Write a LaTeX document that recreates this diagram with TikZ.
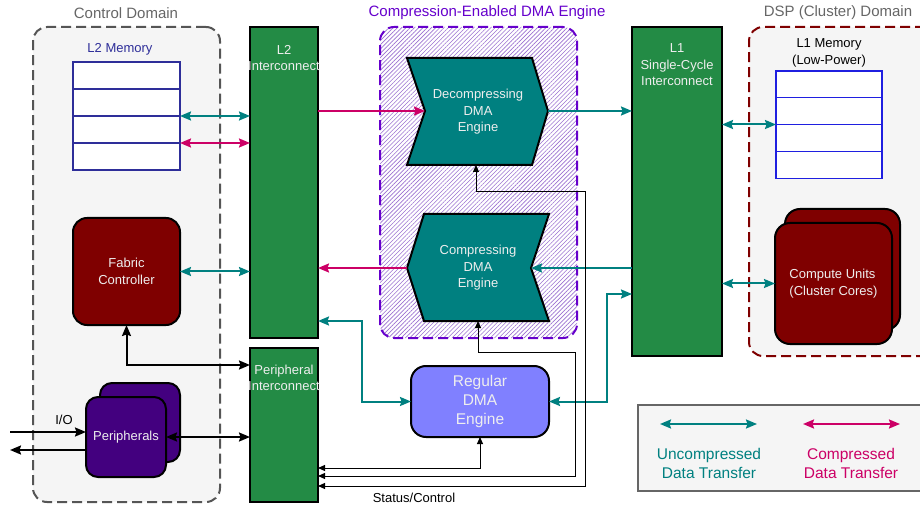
\documentclass[tikz,border=0pt]{standalone}
\usepackage{fontspec}
\setmainfont{Liberation Sans}
\usetikzlibrary{arrows.meta,patterns.meta}
\definecolor{icgreen}{HTML}{238B45}
\definecolor{uncteal}{HTML}{008080}
\definecolor{cmpmag}{HTML}{CC0066}
\definecolor{fcred}{HTML}{7F0000}
\definecolor{perpurple}{HTML}{43007F}
\definecolor{dmablue}{HTML}{8080FF}
\definecolor{bggray}{HTML}{F5F5F5}
\definecolor{domgray}{HTML}{555555}
\definecolor{titgray}{HTML}{666666}
\definecolor{memnavy}{HTML}{2E2E99}
\definecolor{l1blue}{HTML}{1F1FE0}
\definecolor{cdmaviolet}{HTML}{6600CC}
\definecolor{hatch}{HTML}{9A70D0}
\definecolor{lightfg}{HTML}{EEEEEE}
\definecolor{leggray}{HTML}{666666}
\begin{document}
\begin{tikzpicture}[x=1pt,y=-1pt,font=\fontsize{13}{16.5}\selectfont,
		>={Stealth[length=11pt,width=9pt,inset=1.5pt]},
		box/.style={anchor=north west,outer sep=0pt,inner sep=0pt,line width=2pt},
		domainbox/.style={box,draw=#1,fill=bggray,dash pattern=on 10pt off 5pt,rounded corners=14pt},
		icbox/.style={box,draw=black,fill=icgreen},
		rbox/.style={box,draw=black,fill=#1,rounded corners=14pt},
		memrow/.style={box,draw=#1,fill=white,line width=1.2pt,minimum width=107pt,minimum height=27pt},
		lbl/.style={text=lightfg,align=center},
		title/.style={font=\fontsize{15}{18}\selectfont,text=#1},
		unc/.style={draw=uncteal,line width=2pt},
		cmp/.style={draw=cmpmag,line width=2pt},
		blk/.style={draw=black,line width=2pt},
		stat/.style={draw=black,line width=1pt,{Triangle[length=7pt,width=6pt]}-{Triangle[length=7pt,width=6pt]}}
	]
	\useasboundingbox (0,0) rectangle (920,510);
	% domains
	\node[domainbox=domgray,minimum width=187pt,minimum height=475pt](ctrl) at (33,27){};
	\node[title=titgray] at (126,13){Control Domain};
	\node[box,draw=cdmaviolet,fill=white,pattern={Lines[angle=45,distance=3pt,line width=0.6pt]},pattern color=hatch,dash pattern=on 10pt off 5pt,rounded corners=14pt,minimum width=197pt,minimum height=311pt](cdma) at (380,27){};
	\node[title=cdmaviolet] at (487,13){Compression-Enabled DMA Engine};
	\node[domainbox=fcred,minimum width=190pt,minimum height=329pt](dsp) at (749,27){};
	\node[title=titgray] at (838,13){DSP (Cluster) Domain};

	% control domain
	\node[text=memnavy] at (120,49){L2 Memory};
	\foreach \i in {0,...,3}
		\node[memrow=memnavy](l2m\i) at (73,62+27*\i){};
	\node[rbox=fcred,lbl,minimum width=107pt,minimum height=107pt](fc) at (73,218){Fabric\\Controller};
	\node[rbox=perpurple,rounded corners=12pt,minimum width=80pt,minimum height=79pt](perb) at (100,383){};
	\node[rbox=perpurple,lbl,rounded corners=12pt,minimum width=80pt,minimum height=80pt](per) at (86,397){Peripherals};

	% interconnects
	\node[icbox,minimum width=68pt,minimum height=311pt](l2ic) at (250,27){};
	\node[lbl] at ([yshift=-31pt]l2ic.north){L2\\Interconnect};
	\node[icbox,minimum width=68pt,minimum height=154pt](pic) at (250,348){};
	\node[lbl] at ([yshift=-30pt]pic.north){Peripheral\\Interconnect};
	\node[icbox,minimum width=90pt,minimum height=329pt](l1ic) at (632,27){};
	\node[lbl] at ([yshift=-38pt]l1ic.north){L1\\Single-Cycle\\Interconnect};

	% dma engines
	\draw[line width=2pt,fill=uncteal] (407,58) -- (532,58) -- (548,111) -- (532,165) -- (407,165) -- (425,111) -- cycle;
	\node[lbl](dec) at (478,112){Decompressing\\DMA\\Engine};
	\coordinate (decw) at (425,111);
	\coordinate (dece) at (548,111);
	\coordinate (decs) at (476,165);
	\draw[line width=2pt,fill=uncteal] (424,214) -- (549,214) -- (531,268) -- (549,321) -- (424,321) -- (407,268) -- cycle;
	\node[lbl](cmpr) at (478,268){Compressing\\DMA\\Engine};
	\coordinate (cmpw) at (407,268);
	\coordinate (cmpe) at (531,268);
	\coordinate (cmps) at (478,321);
	\node[rbox=dmablue,lbl,rounded corners=15pt,font=\fontsize{15.5}{19}\selectfont,minimum width=138pt,minimum height=71pt](rdma) at (411,366){Regular\\DMA\\Engine};

	% dsp domain
	\node[align=center] at (829,53){L1 Memory\\(Low-Power)};
	\foreach \i in {0,...,3}
		\node[memrow=l1blue,minimum width=106pt](l1m\i) at (776,71+26.75*\i){};
	\node[rbox=fcred,rounded corners=15pt,minimum width=115pt,minimum height=121pt](cub) at (785,209){};
	\node[rbox=fcred,lbl,align=left,rounded corners=15pt,minimum width=117pt,minimum height=121pt](cu) at (775,223){Compute Units\\(Cluster Cores)};

	% data transfers
	\draw[unc,<->] (l2m2.north east) -- (l2m2.north east -| l2ic.west);
	\draw[cmp,<->] (l2m3.north east) -- (l2m3.north east -| l2ic.west);
	\draw[unc,<->] (fc.east) -- (fc.east -| l2ic.west);
	\draw[blk,<->] (fc.south) |- ([yshift=-17pt]pic.north west);
	\draw[blk,<->] (per.east) -- (per.east -| pic.west);
	\coordinate (ioin) at (10,432);
	\coordinate (ioout) at (10,450);
	\draw[blk,->] (ioin) -- (ioin -| per.west);
	\draw[blk,->] (ioout -| per.west) -- (ioout);
	\node at (64,420){I/O};
	\draw[cmp,->] (decw -| l2ic.east) -- (decw);
	\draw[unc,->] (dece) -- (dece -| l1ic.west);
	\draw[cmp,->] (cmpw) -- (cmpw -| l2ic.east);
	\draw[unc,->] (cmpe -| l1ic.west) -- (cmpe);
	\coordinate (rdl) at (362,321);
	\coordinate (rdr) at (607,294);
	\draw[unc,<->] (rdl -| l2ic.east) -- (rdl) |- (rdma.west);
	\draw[unc,<->] (rdma.east) -| (rdr) -- (rdr -| l1ic.west);
	\draw[unc,<->] (l1m2.north west -| l1ic.east) -- (l1m2.north west);
	\draw[unc,<->] (cu.west -| l1ic.east) -- (cu.west);

	% status/control
	\coordinate (st1) at (480,468);
	\coordinate (st2) at (575,476);
	\coordinate (st3) at (585,486);
	\draw[stat] (rdma.south) -- (st1) -- (st1 -| pic.east);
	\draw[stat] (cmps) -- ++(0,31) -| (st2) -- (st2 -| pic.east);
	\draw[stat] (decs) -- ++(0,27) -| (st3) -- (st3 -| pic.east);
	\node at (414,498){Status/Control};

	% legend
	\node[box,draw=leggray,fill=bggray,minimum width=300pt,minimum height=86pt](leg) at (638,405){};
	\coordinate (lgu) at (660,424);
	\coordinate (lgc) at (803,424);
	\draw[unc,<->] (lgu) -- ++(97,0);
	\draw[cmp,<->] (lgc) -- ++(97,0);
	\node[text=uncteal,align=center,font=\fontsize{15.5}{19}\selectfont] at (709,463){Uncompressed\\Data Transfer};
	\node[text=cmpmag,align=center,font=\fontsize{15.5}{19}\selectfont] at (851,463){Compressed\\Data Transfer};
\end{tikzpicture}
\end{document}
